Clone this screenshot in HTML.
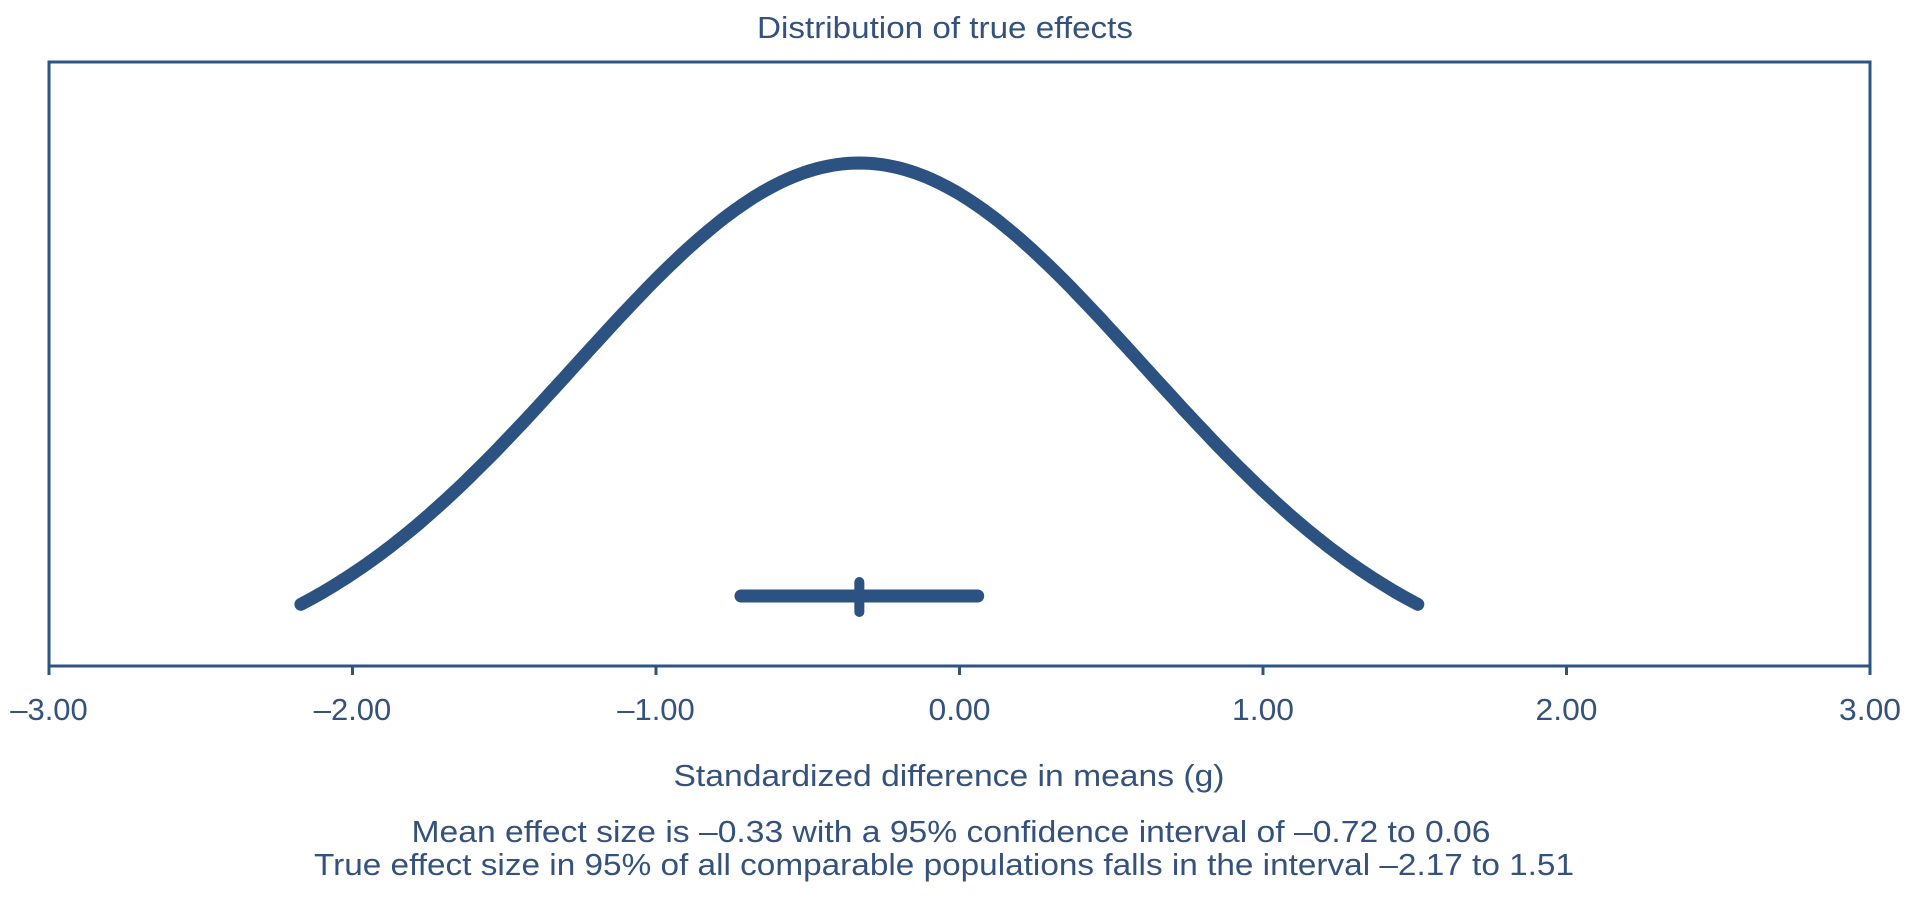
<!DOCTYPE html>
<html><head><meta charset="utf-8"><style>
html,body{margin:0;padding:0;background:#fff}
svg{display:block}
text{font-family:"Liberation Sans",Arial,sans-serif;fill:#34527d}
</style></head><body>
<svg id="chart" width="1913" height="901" viewBox="0 0 1913 901" xmlns="http://www.w3.org/2000/svg">
<text x="945" y="38" font-size="31" text-anchor="middle" textLength="376" lengthAdjust="spacingAndGlyphs">Distribution of true effects</text>
<rect x="49" y="62" width="1821" height="604" fill="none" stroke="#2c5584" stroke-width="3"/>
<g id="ticks"></g>
<path id="curve" fill="none" stroke="#2c5282" stroke-width="13" stroke-linecap="round" stroke-linejoin="round"/>
<line id="ci" stroke="#2c5282" stroke-width="13" stroke-linecap="round"/>
<line id="meanTick" stroke="#2c5282" stroke-width="10" stroke-linecap="round"/>
<text x="949" y="786" font-size="31" text-anchor="middle" textLength="551" lengthAdjust="spacingAndGlyphs">Standardized difference in means (g)</text>
<text x="951" y="842" font-size="31" text-anchor="middle" textLength="1079" lengthAdjust="spacingAndGlyphs">Mean effect size is –0.33 with a 95% confidence interval of –0.72 to 0.06</text>
<text x="944" y="875" font-size="31" text-anchor="middle" textLength="1260" lengthAdjust="spacingAndGlyphs">True effect size in 95% of all comparable populations falls in the interval –2.17 to 1.51</text>
</svg>
<script>
const tickValues = [-3, -2, -1, 0, 1, 2, 3];
const tickLabels = ["–3.00", "–2.00", "–1.00", "0.00", "1.00", "2.00", "3.00"];
const meanEffect = [-0.33];
const ciBounds = [-0.72, 0.06];
const predictionBounds = [-2.17, 1.51];

const NS = "http://www.w3.org/2000/svg";
const X0 = 49, X1 = 1870, YB = 666;
function xs(v){ return X0 + (v + 3) / 6 * (X1 - X0); }
const baseY = 680, amp = 517;
const sd = (predictionBounds[1] - predictionBounds[0]) / (2 * 1.96);
function ys(v){ const z = (v - meanEffect[0]) / sd; return baseY - amp * Math.exp(-z * z / 2); }

const g = document.getElementById('ticks');
tickValues.forEach((v, i) => {
  const l = document.createElementNS(NS, 'line');
  
  
  l.setAttribute('x1', xs(v)); l.setAttribute('x2', xs(v));
  l.setAttribute('y1', YB); l.setAttribute('y2', YB + 9);
  l.setAttribute('stroke', '#2c5584'); l.setAttribute('stroke-width', '3');
  g.appendChild(l);
  const t = document.createElementNS(NS, 'text');
  
  
  t.setAttribute('x', xs(v)); t.setAttribute('y', 720);
  t.setAttribute('font-size', '31'); t.setAttribute('text-anchor', 'middle');
  t.setAttribute('textLength', tickLabels[i].length * 15.5);
  t.setAttribute('lengthAdjust', 'spacingAndGlyphs');
  t.textContent = tickLabels[i];
  g.appendChild(t);
});

let d = '';
const N = 200;
for (let i = 0; i <= N; i++) {
  const v = predictionBounds[0] + (predictionBounds[1] - predictionBounds[0]) * i / N;
  d += (i ? 'L' : 'M') + xs(v).toFixed(1) + ',' + ys(v).toFixed(1);
}
document.getElementById('curve').setAttribute('d', d);

const ci = document.getElementById('ci');
ci.setAttribute('x1', xs(ciBounds[0])); ci.setAttribute('x2', xs(ciBounds[1]));
ci.setAttribute('y1', 596); ci.setAttribute('y2', 596);
const mt = document.getElementById('meanTick');
mt.setAttribute('x1', xs(meanEffect[0])); mt.setAttribute('x2', xs(meanEffect[0]));
mt.setAttribute('y1', 582); mt.setAttribute('y2', 612);
</script>
</body></html>
